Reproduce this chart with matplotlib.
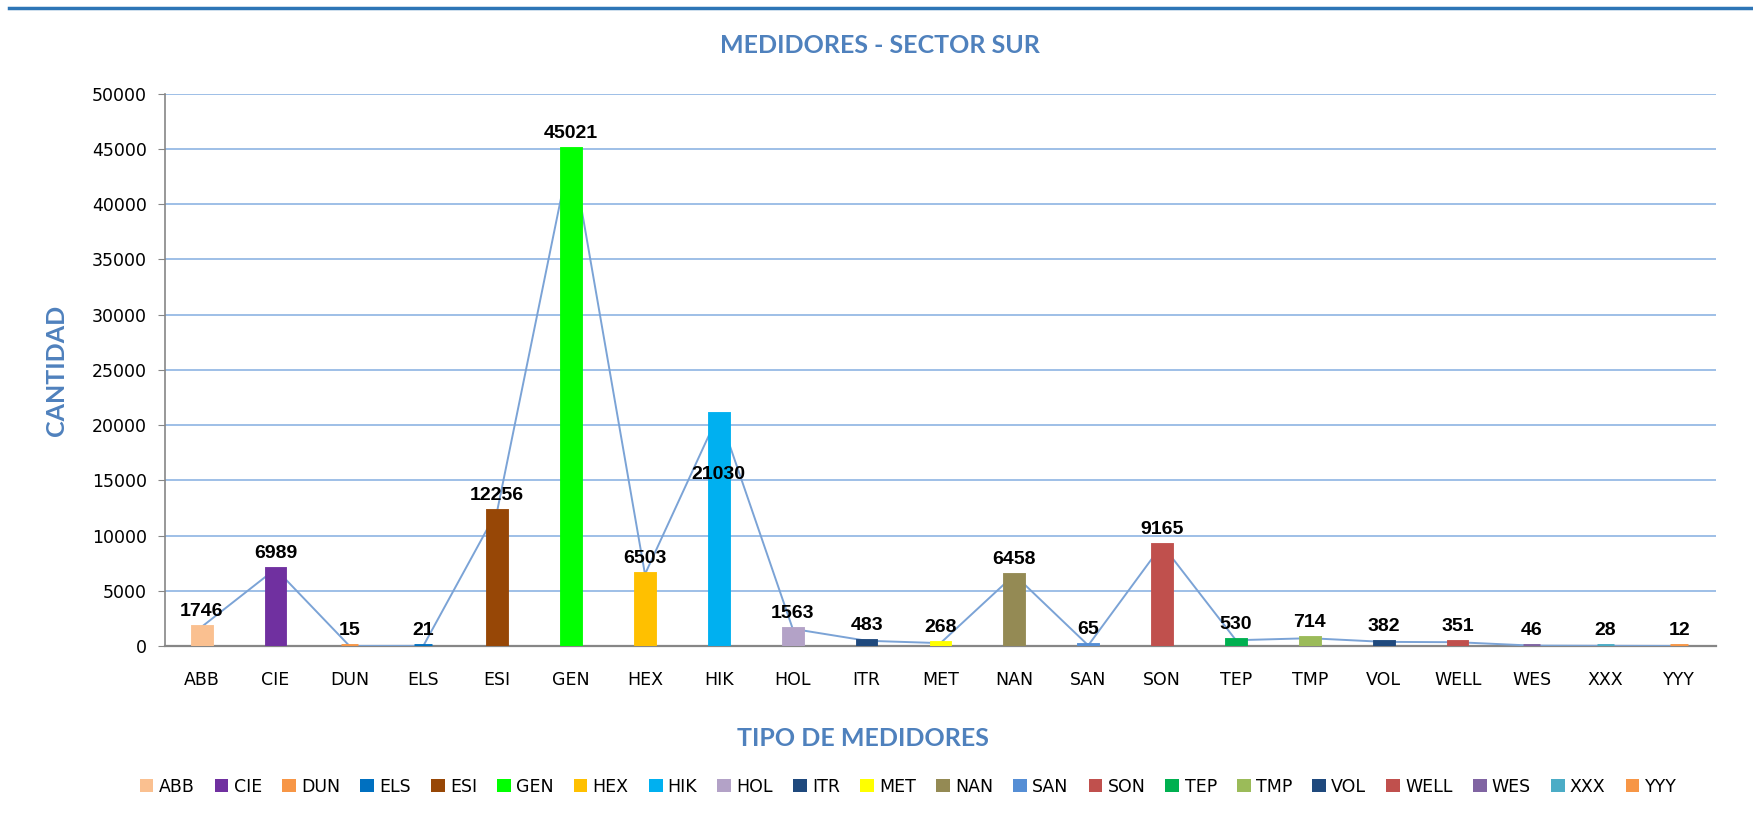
import matplotlib.pyplot as plt
from matplotlib.lines import Line2D
from matplotlib.patches import Patch

# data
tipos = ['ABB', 'CIE', 'DUN', 'ELS', 'ESI', 'GEN', 'HEX', 'HIK', 'HOL', 'ITR', 'MET',
         'NAN', 'SAN', 'SON', 'TEP', 'TMP', 'VOL', 'WELL', 'WES', 'XXX', 'YYY']
cantidad = [1746, 6989, 15, 21, 12256, 45021, 6503, 21030, 1563, 483, 268,
            6458, 65, 9165, 530, 714, 382, 351, 46, 28, 12]
colores = ['#FAC090', '#7030A0', '#F79646', '#0070C0', '#974706', '#00FF00', '#FFC000',
           '#00B0F0', '#B3A2C7', '#1F497D', '#FFFF00', '#948A54', '#558ED5', '#C0504D',
           '#00B050', '#9BBB59', '#1F497D', '#C0504D', '#8064A2', '#4BACC6', '#F79646']

azul = '#4F81BD'
fuente = 'Lato'
fuente_ejes = 'DejaVu Sans'

fig = plt.figure(figsize=(17.53, 8.22), dpi=100)
ax = fig.add_axes([0.094, 0.214, 0.885, 0.672])

x = range(len(tipos))
# borde del mismo color para que las barras pequeñas se vean como en excel
ax.bar(x, cantidad, width=0.24, color=colores, edgecolor=colores, linewidth=3.5, zorder=3)
ax.plot(x, cantidad, color='#7BA3D6', lw=1.4, zorder=2.7)

# etiquetas de datos
for i, v in enumerate(cantidad):
    dy = 5
    if tipos[i] == 'HIK':
        dy = -50
    ax.annotate(str(v), (i, v), xytext=(0, dy), textcoords='offset points',
                ha='center', va='bottom', fontsize=14, fontweight='bold',
                family='Liberation Sans', zorder=5)

ax.set_xlim(-0.5, len(tipos) - 0.5)
ax.set_ylim(0, 50000)
ax.set_yticks(range(0, 50001, 5000))
ax.set_xticks(list(x))
ax.set_xticklabels(tipos)
ax.tick_params(axis='x', length=0, pad=18, labelsize=12.5)
ax.tick_params(axis='y', length=5, color='#868686', pad=8, labelsize=12.5)
for lab in ax.get_xticklabels() + ax.get_yticklabels():
    lab.set_family(fuente_ejes)

ax.grid(axis='y', color='#8EB4E3', lw=1.2, zorder=0)
for s in ['top', 'right']:
    ax.spines[s].set_visible(False)
ax.spines['left'].set_color('#868686')
ax.spines['bottom'].set_color('#868686')
ax.spines['left'].set_linewidth(1.2)
ax.spines['bottom'].set_linewidth(1.6)
ax.spines['bottom'].set_zorder(2)

fig.text(0.502, 0.945, 'MEDIDORES - SECTOR SUR', ha='center', va='center',
         fontsize=18, fontweight='bold', color=azul, family=fuente)
fig.text(0.492, 0.102, 'TIPO DE MEDIDORES', ha='center', va='center',
         fontsize=18, fontweight='bold', color=azul, family=fuente)
fig.text(0.032, 0.55, 'CANTIDAD', ha='center', va='center', rotation=90,
         fontsize=18, fontweight='bold', color=azul, family=fuente)

# linea superior
fig.add_artist(Line2D([0.005, 1.0], [0.990, 0.990], color='#2E75B6', lw=2.5))

handles = [Patch(facecolor=c, edgecolor='none') for c in colores]
fig.legend(handles, tipos, loc='center', bbox_to_anchor=(0.518, 0.043), ncol=len(tipos),
           frameon=False, prop={'family': fuente_ejes, 'size': 12.5},
           handlelength=0.8, handleheight=0.8, handletextpad=0.3, columnspacing=1.15)

fig.savefig('out.png', dpi=100)
